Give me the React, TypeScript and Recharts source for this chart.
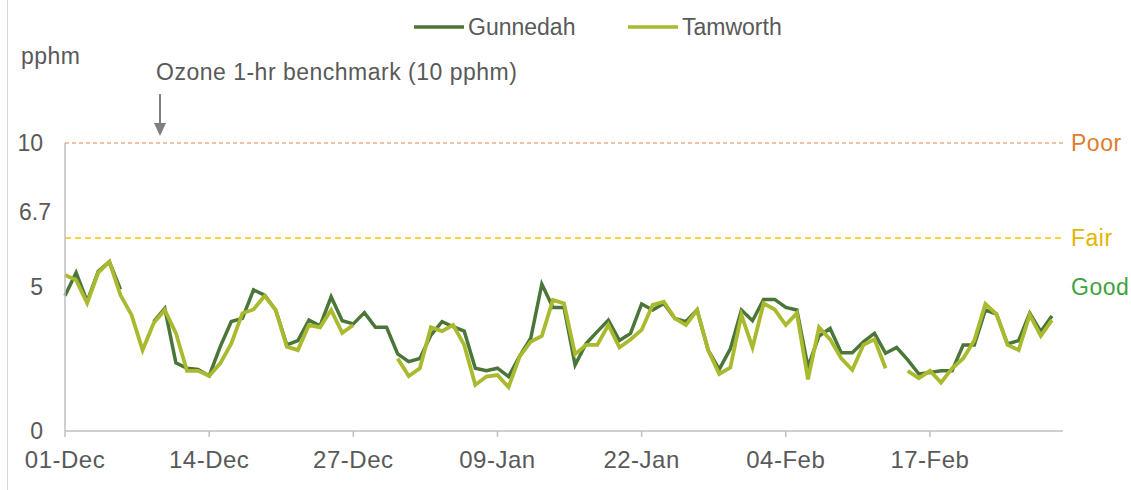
import { LineChart, Line, XAxis, YAxis, ReferenceLine } from 'recharts';

// daily max 1-hr ozone (pphm), 01-Dec .. 28-Feb, null = no data
const gunnedah = [
  4.7, 5.5, 4.5, 5.55, 5.88, 4.92, null, null, 3.8, 4.26,
  2.37, 2.18, 2.14, 1.91, 2.93, 3.8, 3.91, 4.9, 4.72, 4.2,
  2.99, 3.14, 3.85, 3.65, 4.66, 3.83, 3.72, 4.11, 3.6, 3.6,
  2.68, 2.41, 2.52, 3.33, 3.8, 3.62, 3.47, 2.18, 2.09, 2.18,
  1.89, 2.6, 3.22, 5.1, 4.29, 4.29, 2.29, 3.04, 3.45, 3.85,
  3.14, 3.39, 4.41, 4.2, 4.43, 3.91, 3.8, 4.2, 2.81, 2.14,
  2.85, 4.2, 3.83, 4.57, 4.57, 4.29, 4.2, 2.23, 3.3, 3.56,
  2.72, 2.72, 3.1, 3.39, 2.7, 2.9, 2.47, 1.98, 2.03, 2.09,
  2.09, 2.99, 2.99, 4.2, 4.06, 3.02, 3.14, 4.09, 3.45, 3.99,
];

const tamworth = [
  5.42, 5.24, 4.44, 5.5, 5.88, 4.72, 4.03, 2.81, 3.75, 4.2,
  3.4, 2.09, 2.09, 1.91, 2.35, 3.04, 4.09, 4.22, 4.69, 4.2,
  2.93, 2.81, 3.68, 3.6, 4.2, 3.41, 3.68, null, null, null,
  2.52, 1.91, 2.18, 3.6, 3.47, 3.68, 2.99, 1.6, 1.89, 1.94,
  1.52, 2.58, 3.1, 3.3, 4.55, 4.43, 2.67, 2.99, 2.99, 3.68,
  2.9, 3.18, 3.51, 4.38, 4.49, 3.91, 3.68, 4.2, 2.81, 1.98,
  2.2, 4.03, 2.9, 4.43, 4.22, 3.68, 4.09, 1.79, 3.6, 3.18,
  2.52, 2.12, 2.99, 3.18, 2.18, null, 2.09, 1.83, 2.09, 1.68,
  2.18, 2.52, 3.14, 4.41, 4.06, 2.99, 2.81, 4.03, 3.3, 3.85,
];

const xTicks = [0, 13, 26, 39, 52, 65, 78];
const xTickLabels = ['01-Dec', '14-Dec', '27-Dec', '09-Jan', '22-Jan', '04-Feb', '17-Feb'];
const yTicks = [0, 5, 6.7, 10];

const data = gunnedah.map((g, i) => ({ day: i, gunnedah: g, tamworth: tamworth[i] }));

const FONT = '"Liberation Sans", Arial, sans-serif';
const GREY = '#595959';
const DARK = '#4B763A';
const LIGHT = '#A9BA2E';

function YTick(props: any) {
  const { x, y, payload } = props;
  const fair = payload.value === 6.7;
  return (
    <text
      x={fair ? x - 6 : x - 14}
      y={fair ? y - 26 : y}
      dy="0.35em"
      textAnchor="end"
      fill={GREY}
      fontSize={23}
      fontFamily={FONT}
    >
      {payload.value}
    </text>
  );
}

export default function App() {
  return (
    <div style={{ position: 'absolute', left: 0, top: 0, width: 1131, height: 490, background: '#fff' }}>
      <div style={{ position: 'absolute', left: 7, top: 0, width: 1, height: 490, background: '#D9D9D9' }} />
      <LineChart
        width={1131}
        height={490}
        data={data}
        margin={{ top: 143, right: 68, bottom: 0, left: 0 }}
        style={{ fontFamily: FONT }}
      >
        <XAxis
          dataKey="day"
          type="number"
          domain={[0, 90]}
          ticks={xTicks}
          tickFormatter={(v: number) => xTickLabels[xTicks.indexOf(v)]}
          tick={{ fill: GREY, fontSize: 24, fontFamily: FONT, letterSpacing: 0.5 }}
          axisLine={{ stroke: '#BFBFBF', strokeWidth: 1.5 }}
          tickLine={{ stroke: '#BFBFBF', strokeWidth: 1.5 }}
          tickSize={6}
          tickMargin={14}
          height={59}
        />
        <YAxis
          type="number"
          domain={[0, 10]}
          ticks={yTicks}
          width={65}
          axisLine={{ stroke: '#BFBFBF', strokeWidth: 1.5 }}
          tickLine={false}
          tick={<YTick />}
          interval={0}
        />
        <ReferenceLine
          y={10}
          stroke="#D9874A"
          strokeDasharray="4 3"
          strokeWidth={1}
          label={{ value: 'Poor', position: 'right', offset: 8, fill: '#E07B2F', fontSize: 23, fontFamily: FONT, letterSpacing: 0.5 }}
        />
        <ReferenceLine
          y={6.7}
          stroke="#F5C400"
          strokeDasharray="6 4"
          strokeWidth={1.5}
          label={{ value: 'Fair', position: 'right', offset: 8, fill: '#E2B600', fontSize: 23, fontFamily: FONT, letterSpacing: 0.5 }}
        />
        <ReferenceLine
          y={5}
          stroke="none"
          label={{ value: 'Good', position: 'right', offset: 8, fill: '#3DA33D', fontSize: 23, fontFamily: FONT, letterSpacing: 0.5 }}
        />
        <Line
          type="linear"
          dataKey="gunnedah"
          name="Gunnedah"
          stroke={DARK}
          strokeWidth={3.5}
          dot={false}
          activeDot={false}
          isAnimationActive={false}
        />
        <Line
          type="linear"
          dataKey="tamworth"
          name="Tamworth"
          stroke={LIGHT}
          strokeWidth={3.8}
          dot={false}
          activeDot={false}
          isAnimationActive={false}
        />

        {/* legend */}
        <g fontFamily={FONT} fontSize={23} fill={GREY}>
          <line x1={414} x2={464} y1={27} y2={27} stroke={DARK} strokeWidth={3.5} />
          <text x={468} y={27} dy="0.35em">Gunnedah</text>
          <line x1={628} x2={678} y1={27} y2={27} stroke={LIGHT} strokeWidth={3.5} />
          <text x={682} y={27} dy="0.35em">Tamworth</text>
        </g>

        {/* unit + benchmark annotation */}
        <g fontFamily={FONT} fontSize={23} fill={GREY} letterSpacing={0.5}>
          <text x={21} y={64}>pphm</text>
          <text x={156} y={80}>Ozone 1-hr benchmark (10 pphm)</text>
          <line x1={160} x2={160} y1={94} y2={124} stroke="#7F7F7F" strokeWidth={2} />
          <polygon points="154,123 166,123 160,136" fill="#7F7F7F" />
        </g>
      </LineChart>
    </div>
  );
}
